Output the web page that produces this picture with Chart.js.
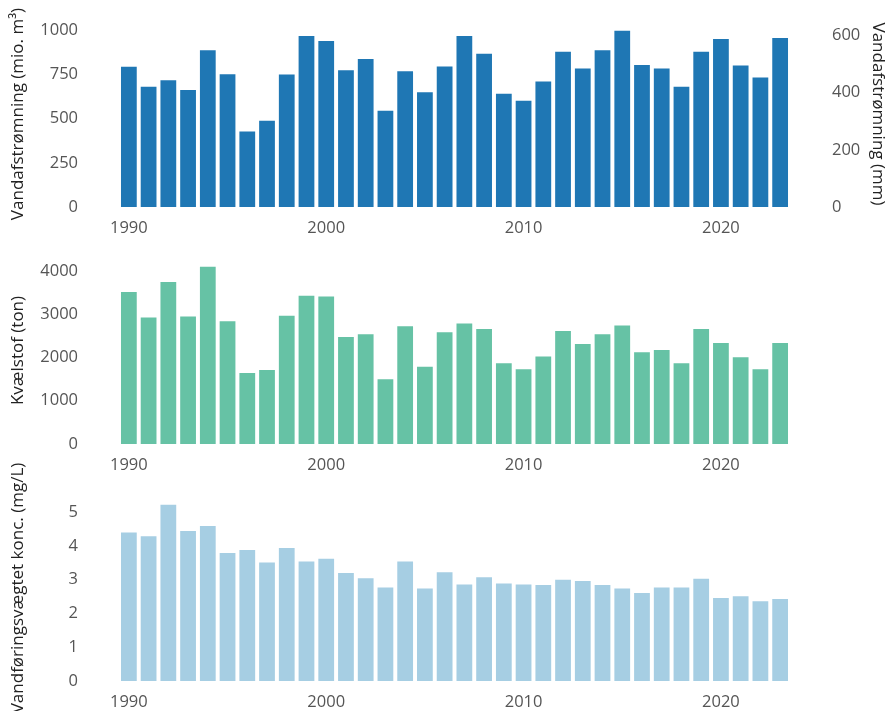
<!DOCTYPE html>
<html>
<head>
<meta charset="utf-8">
<script src="https://cdn.jsdelivr.net/npm/chart.js@4"></script>
<style>
  body { margin: 0; background: #fff; }
  .panel { position: absolute; left: 0; width: 888px; height: 237px; }
</style>
</head>
<body>
<div class="panel" style="top:0"><canvas id="chart1"></canvas></div>
<div class="panel" style="top:237px"><canvas id="chart2"></canvas></div>
<div class="panel" style="top:454px;height:257px"><canvas id="chart3"></canvas></div>
<script>
  const years = [1990, 1991, 1992, 1993, 1994, 1995, 1996, 1997, 1998, 1999,
    2000, 2001, 2002, 2003, 2004, 2005, 2006, 2007, 2008, 2009,
    2010, 2011, 2012, 2013, 2014, 2015, 2016, 2017, 2018, 2019,
    2020, 2021, 2022, 2023];

  // mio. m3
  const runoff = [800, 687, 724, 668, 894, 758, 434, 495, 757, 975,
    947, 781, 845, 551, 775, 656, 802, 975, 874, 647,
    608, 717, 885, 790, 894, 1004, 811, 790, 687, 885,
    958, 807, 740, 964];

  // ton
  const nitrogen = [3535, 2944, 3767, 2967, 4116, 2860, 1665, 1735, 2984, 3449,
    3433, 2495, 2558, 1519, 2744, 1805, 2605, 2805, 2681, 1891,
    1751, 2047, 2635, 2333, 2558, 2758, 2140, 2193, 1891, 2681,
    2356, 2030, 1751, 2356];

  // mg/L
  const conc = [4.43, 4.32, 5.25, 4.47, 4.62, 3.82, 3.91, 3.54, 3.97, 3.57,
    3.65, 3.23, 3.07, 2.80, 3.57, 2.77, 3.25, 2.89, 3.10, 2.92,
    2.89, 2.87, 3.03, 2.99, 2.87, 2.77, 2.64, 2.80, 2.80, 3.06,
    2.49, 2.54, 2.39, 2.46];

  const runoffTicks = [0, 250, 500, 750, 1000];
  const runoffMmTicks = [0, 200, 400, 600];
  const nitrogenTicks = [0, 1000, 2000, 3000, 4000];
  const concTicks = [0, 1, 2, 3, 4, 5];

  const tickFont = { family: 'Open Sans', size: 16.5 };
  const titleFont = { family: 'Open Sans', size: 17 };
  const tickColor = '#555';

  function xAxis() {
    return {
      grid: { display: false, drawTicks: false },
      border: { display: false },
      ticks: {
        font: tickFont, color: tickColor, padding: 11,
        autoSkip: false, maxRotation: 0,
        callback: (v, i) => years[i] % 10 === 0 ? years[i] : ''
      },
      afterFit: (s) => { s.height = 30; }
    };
  }

  function leftAxis(title, max, tickVals) {
    return {
      position: 'left', min: 0, max: max,
      grid: { display: false, drawTicks: true, tickLength: 36 },
      border: { display: false },
      afterBuildTicks: (s) => { s.ticks = tickVals.map(v => ({ value: v })); },
      ticks: { font: tickFont, color: tickColor, padding: 5, callback: (v) => v },
      title: { display: true, text: title, font: titleFont, color: '#222', padding: { top: 8, bottom: 0 } },
      afterFit: (s) => { s.width = 119; }
    };
  }

  function barChart(id, values, color, scales, padTop, padRight) {
    return new Chart(document.getElementById(id), {
      type: 'bar',
      data: {
        labels: years,
        datasets: [{
          data: values,
          backgroundColor: color,
          borderColor: 'rgba(255,255,255,0.45)',
          borderWidth: 1,
          barPercentage: 0.9,
          categoryPercentage: 1
        }]
      },
      options: {
        responsive: true,
        maintainAspectRatio: false,
        animation: false,
        layout: { padding: { top: padTop, right: padRight, left: 0, bottom: 0 } },
        plugins: { legend: { display: false }, tooltip: { enabled: false } },
        scales: scales
      }
    });
  }

  const chart1 = barChart('chart1', runoff, '#1f77b4', {
    x: xAxis(),
    y: leftAxis('Vandafstrømning (mio. m³)', 1054, runoffTicks),
    y2: {
      position: 'right', min: 0, max: 651,
      grid: { display: false, drawTicks: true, tickLength: 37 },
      border: { display: false },
      afterBuildTicks: (s) => { s.ticks = runoffMmTicks.map(v => ({ value: v })); },
      ticks: { font: tickFont, color: tickColor, padding: 5, callback: (v) => v },
      title: { display: true, text: 'Vandafstrømning (mm)', font: titleFont, color: '#222', padding: { top: 0, bottom: 0 } },
      afterFit: (s) => { s.width = 98; }
    }
  }, 21, 0);

  const chart2 = barChart('chart2', nitrogen, '#66c2a5', {
    x: xAxis(),
    y: leftAxis('Kvælstof (ton)', 4320, nitrogenTicks)
  }, 20, 98);

  const chart3 = barChart('chart3', conc, '#a6cee3', {
    x: xAxis(),
    y: leftAxis('Vandføringsvægtet konc. (mg/L)', 5.51, concTicks)
  }, 41, 98);
</script>
</body>
</html>
